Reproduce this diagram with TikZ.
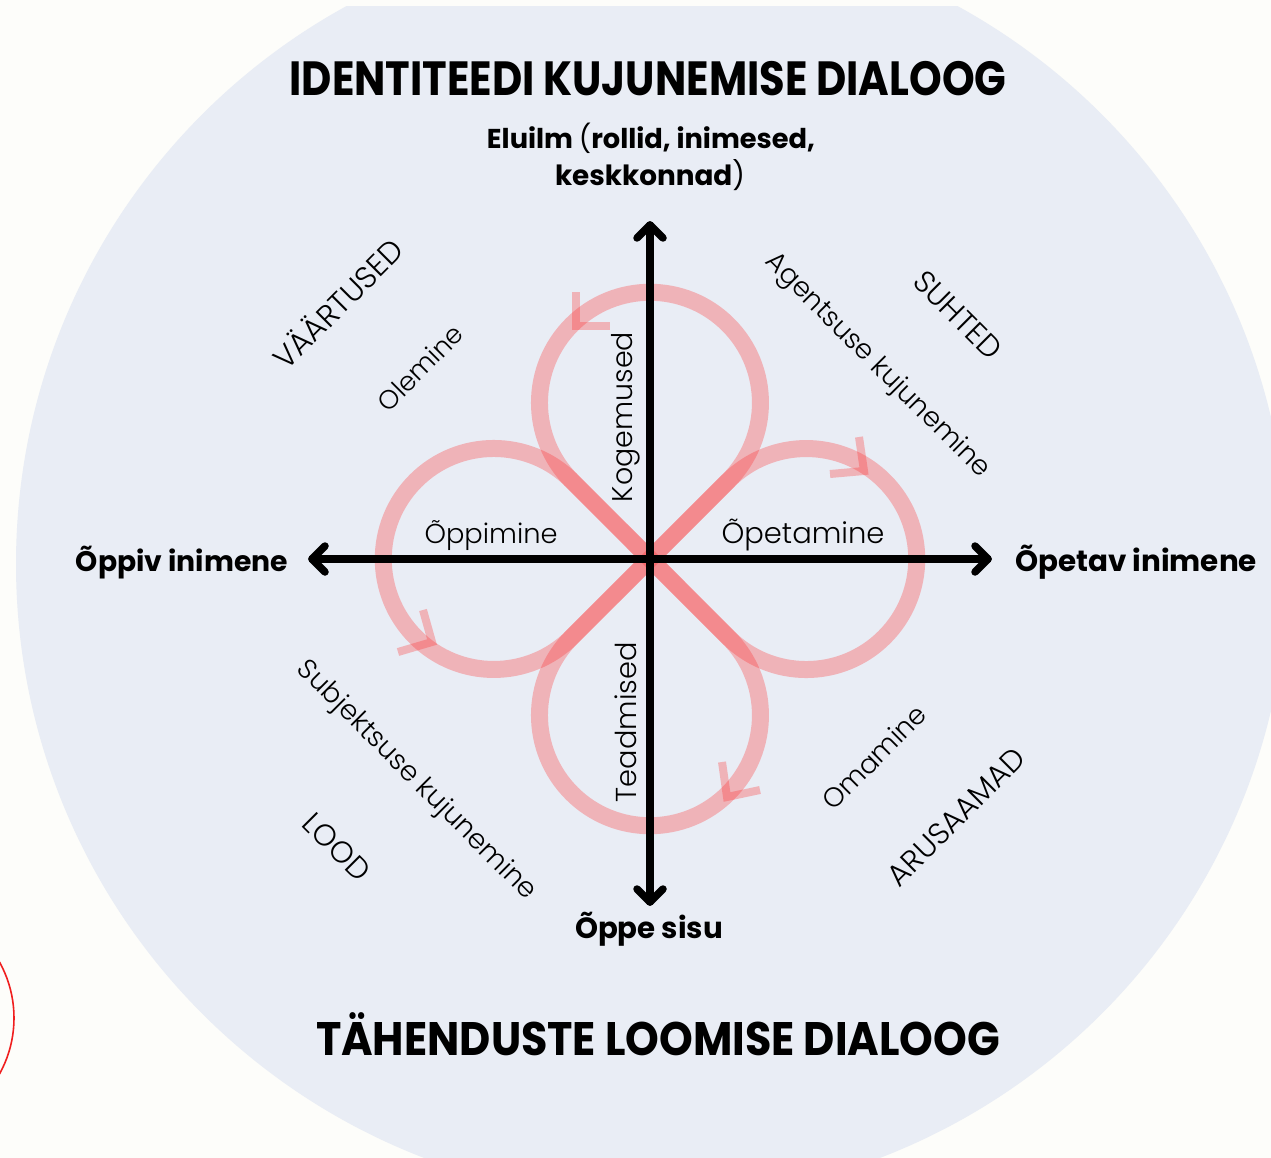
\documentclass[tikz,border=0pt]{standalone}
\usepackage{fontspec}
\setmainfont{Poppins}
\newfontfamily\thinf{Poppins Light}
\usepackage{graphicx}
\usetikzlibrary{calc}
\definecolor{paper}{RGB}{253,253,250}
\definecolor{disc}{RGB}{233,237,245}
\definecolor{loopc}{RGB}{255,45,45}
\definecolor{markred}{RGB}{240,30,30}
\newcommand\fitw[2]{\resizebox{#1pt}{!}{#2}}
\tikzset{
  looppath/.style={draw=loopc, draw opacity=0.3, line width=17, line cap=butt},
  chevron/.style={draw=loopc, draw opacity=0.3, line width=8, line cap=butt, line join=miter},
  axisline/.style={draw=black, line width=7.5, line cap=round, line join=round},
  thinlbl/.style={inner sep=0, font=\thinf\fontsize{26}{26}\selectfont},
  boldlbl/.style={inner sep=0, font=\bfseries\fontsize{26}{26}\selectfont, anchor=base},
}
\begin{document}
\begin{tikzpicture}[x=1pt,y=-1pt]
\useasboundingbox (0,0) rectangle (1271,1158);
\clip (0,0) rectangle (1271,1158);
\fill[paper] (0,0) rectangle (1271,1158);
\begin{scope}
  \clip (0,7) rectangle (1271,1158);
  \fill[disc] (652,564) circle[radius=636];
\end{scope}
\draw[markred, line width=1.6] (-101,1018) circle[radius=115];

% centre and axis ends
\coordinate (O) at (650,559);
\coordinate (N) at (650,225);
\coordinate (S) at (650,902);
\coordinate (W) at (312,559);
\coordinate (E) at (988,559);

% loops
\draw[looppath] (O) -- (728.1,480.9) arc[start angle=45, end angle=-225, radius=110.5] -- (O);
\draw[looppath] (O) -- (728.1,480.9) arc[start angle=-135, end angle=135, radius=110.5] -- (O);
\draw[looppath] (O) -- (728.1,637.1) arc[start angle=-45, end angle=225, radius=110.5] -- (O);
\draw[looppath] (O) -- (571.9,637.1) arc[start angle=45, end angle=315, radius=110.5] -- (O);

% direction marks
\draw[chevron] (576,292) -- (576,326) -- (610,326);
\draw[chevron] (859,437) -- (864,471) -- (830,474);
\draw[chevron] (423,610) -- (432,642) -- (398,652);
\draw[chevron] (722,762) -- (727,797) -- (760,790);

% axes
\draw[axisline] (N) -- (S);
\draw[axisline] (W) -- (E);
\draw[axisline] ($(N)+(-13,13)$) -- (N) -- ($(N)+(13,13)$);
\draw[axisline] ($(S)+(-13,-13)$) -- (S) -- ($(S)+(13,-13)$);
\draw[axisline] ($(W)+(13,-13)$) -- (W) -- ($(W)+(13,13)$);
\draw[axisline] ($(E)+(-13,-13)$) -- (E) -- ($(E)+(-13,13)$);

% titles
\node[inner sep=0, anchor=base] (t1) at (648,96)
  {\resizebox{717pt}{\height}{\fontsize{48}{48}\selectfont\bfseries IDENTITEEDI KUJUNEMISE DIALOOG}};
\node[inner sep=0, anchor=base] (t2) at (658,1055)
  {\resizebox{684pt}{\height}{\fontsize{47}{47}\selectfont\bfseries TÄHENDUSTE LOOMISE DIALOOG}};

% axis labels
\node[boldlbl] (up1) at (651,149) {\fitw{328}{Eluilm {\mdseries(}rollid, inimesed,}};
\node[boldlbl] (up2) at (650,186) {\fitw{190}{keskkonnad{\mdseries)}}};
\node[boldlbl] (lt) at (182,571) {\fitw{212}{Õppiv inimene}};
\node[boldlbl] (rt) at (1136,571) {\fitw{242}{Õpetav inimene}};
\node[boldlbl] (dn) at (649,938) {\fitw{148}{Õppe sisu}};

% inner labels
\node[thinlbl, anchor=base] (l1) at (491,543) {\fitw{133}{Õppimine}};
\node[thinlbl, anchor=base] (l2) at (803,543) {\fitw{163}{Õpetamine}};
\node[thinlbl, rotate=90] (l3) at (626,417) {\fitw{170}{Kogemused}};
\node[thinlbl, rotate=90] (l4) at (626,722) {\fitw{160}{Teadmised}};

% diagonal labels
\node[thinlbl, rotate=45] (d1) at (337,303) {\fitw{169}{VÄÄRTUSED}};
\node[thinlbl, rotate=45] (d2) at (420,368) {\fitw{109}{Olemine}};
\node[thinlbl, rotate=-45] (d3) at (958,315) {\fitw{111}{SUHTED}};
\node[thinlbl, rotate=-45] (d4) at (877,366) {\fitw{305}{Agentsuse kujunemine}};
\node[thinlbl, rotate=-45] (d5) at (416,781) {\fitw{326}{Subjektsuse kujunemine}};
\node[thinlbl, rotate=-45] (d6) at (337,847) {\fitw{81}{LOOD}};
\node[thinlbl, rotate=45] (d7) at (874,757) {\fitw{135}{Omamine}};
\node[thinlbl, rotate=45] (d8) at (956,817) {\fitw{181}{ARUSAAMAD}};
\end{tikzpicture}
\end{document}
